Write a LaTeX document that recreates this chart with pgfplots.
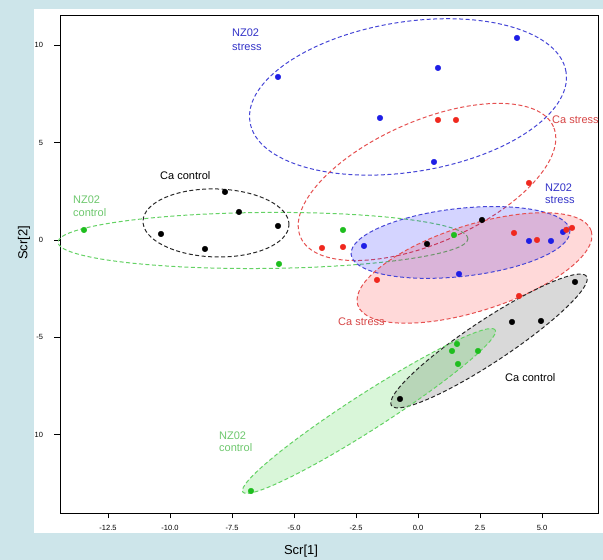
\documentclass[border=0pt]{standalone}
\usepackage{fontspec}
\setmainfont{Liberation Sans}
\usepackage{pgfplots}
\pgfplotsset{compat=1.18}
\definecolor{bgblue}{RGB}{205,229,234}
\definecolor{ptblue}{RGB}{30,30,230}
\definecolor{ptred}{RGB}{240,40,30}
\definecolor{ptgreen}{RGB}{30,190,30}
\definecolor{lnblue}{RGB}{70,70,215}
\definecolor{lnred}{RGB}{230,80,80}
\definecolor{lngreen}{RGB}{100,210,100}
\definecolor{lnblack}{RGB}{40,40,40}
\definecolor{txtblue}{RGB}{50,50,200}
\definecolor{txtred}{RGB}{215,70,70}
\definecolor{txtgreen}{RGB}{110,200,110}
\definecolor{fillgreen}{RGB}{0,200,0}
\tikzset{ell/.style={dash pattern=on 4pt off 2.5pt, line width=1pt}}
\begin{document}
\begin{tikzpicture}
\useasboundingbox (0,0) rectangle (603pt,560pt);
\clip (0,0) rectangle (603pt,560pt);
\fill[bgblue] (0,0) rectangle (603pt,560pt);
\fill[white] (34pt,27pt) rectangle (603pt,551pt);
\begin{axis}[
  at={(60pt,47pt)}, anchor=south west, scale only axis,
  width=538pt, height=498pt,
  xmin=-14.435, xmax=7.258, ymin=-14.03, ymax=11.56,
  xtick={-12.5,-10,-7.5,-5,-2.5,0,2.5,5},
  ytick={-10,-5,0,5,10},
  tick pos=left, tick align=outside, major tick length=5.5pt,
  tick style={black, line width=0.7pt},
  axis line style={line width=0.9pt, black},
  /pgf/number format/assume math mode=true,
  tick label style={font=\fontsize{7.5}{8}\selectfont},
  xticklabel style={yshift=-3pt, /pgf/number format/.cd, fixed, fixed zerofill, precision=1},
  yticklabel style={xshift=-8pt, /pgf/number format/.cd, fixed, precision=0},
  clip=false,
]
% ellipses
\draw[ell, lnblue, rotate around={9:(axis cs:-0.403,7.35)}] (axis cs:-0.403,7.35) ellipse [x radius=160pt, y radius=75pt];
\draw[ell, lnred, rotate around={23.6:(axis cs:0.363,2.98)}] (axis cs:0.363,2.98) ellipse [x radius=138pt, y radius=61pt];
\draw[ell, lngreen, rotate around={0.5:(axis cs:-6.25,-0.026)}] (axis cs:-6.25,-0.026) ellipse [x radius=205pt, y radius=28pt];
\draw[ell, lnblack, rotate around={-1.5:(axis cs:-8.145,0.874)}] (axis cs:-8.145,0.874) ellipse [x radius=73pt, y radius=34pt];
\fill[blue, fill opacity=0.17, rotate around={6.3:(axis cs:1.714,-0.128)}] (axis cs:1.714,-0.128) ellipse [x radius=110pt, y radius=34pt];
\fill[red, fill opacity=0.15, rotate around={17.6:(axis cs:2.278,-1.439)}] (axis cs:2.278,-1.439) ellipse [x radius=122.5pt, y radius=43pt];
\fill[black, fill opacity=0.15, rotate around={33.5:(axis cs:2.863,-5.19)}] (axis cs:2.863,-5.19) ellipse [x radius=117pt, y radius=21pt];
\fill[fillgreen, fill opacity=0.15, rotate around={32.7:(axis cs:-1.976,-8.787)}] (axis cs:-1.976,-8.787) ellipse [x radius=150pt, y radius=18pt];
\draw[ell, lnblue, rotate around={6.3:(axis cs:1.714,-0.128)}] (axis cs:1.714,-0.128) ellipse [x radius=110pt, y radius=34pt];
\draw[ell, lnred, rotate around={17.6:(axis cs:2.278,-1.439)}] (axis cs:2.278,-1.439) ellipse [x radius=122.5pt, y radius=43pt];
\draw[ell, lnblack, rotate around={33.5:(axis cs:2.863,-5.19)}] (axis cs:2.863,-5.19) ellipse [x radius=117pt, y radius=21pt];
\draw[ell, lngreen, rotate around={32.7:(axis cs:-1.976,-8.787)}] (axis cs:-1.976,-8.787) ellipse [x radius=150pt, y radius=18pt];
% points
\addplot[only marks, mark=*, mark size=2.8pt, ptblue, mark options={draw=ptblue, fill=ptblue}] coordinates {
(-5.645,8.376) (-1.532,6.269) (0.806,8.839) (3.992,10.380) (0.645,4.008)
(-2.177,-0.308) (1.653,-1.747) (4.476,-0.051) (5.363,-0.051) (5.847,0.411)};
\addplot[only marks, mark=*, mark size=2.8pt, ptred, mark options={draw=ptred, fill=ptred}] coordinates {
(0.806,6.166) (1.532,6.166) (4.476,2.929) (-3.871,-0.411) (-3.024,-0.360)
(3.871,0.360) (4.798,0) (5.98,0.52) (6.21,0.62) (-1.653,-2.055) (4.073,-2.878)};
\addplot[only marks, mark=*, mark size=2.8pt, black, mark options={draw=black, fill=black}] coordinates {
(-7.782,2.467) (-7.218,1.439) (-5.645,0.719) (-10.363,0.308) (-8.589,-0.462)
(0.363,-0.206) (2.581,1.028) (6.331,-2.158) (3.790,-4.214) (4.960,-4.162) (-0.726,-8.171)};
\addplot[only marks, mark=*, mark size=2.8pt, ptgreen, mark options={draw=ptgreen, fill=ptgreen}] coordinates {
(-13.468,0.514) (-5.605,-1.233) (-3.024,0.514) (1.452,0.257) (1.573,-5.344)
(1.371,-5.704) (2.419,-5.704) (1.613,-6.372) (-6.734,-12.898)};
\end{axis}
\fill[bgblue] (0,0) rectangle (34pt,560pt);
% axis labels
\node[font=\fontsize{13}{15}\selectfont] at (301pt,9pt) {Scr[1]};
\node[rotate=90, font=\fontsize{13}{15}\selectfont] at (24pt,317pt) {Scr[2]};
% group labels
\begin{scope}[every node/.style={font=\fontsize{11}{13}\selectfont, inner sep=0pt}]
\node[txtblue, anchor=base west] at (232pt,523pt) {NZ02};
\node[txtblue, anchor=base west] at (232pt,509pt) {stress};
\node[black, anchor=base west] at (160pt,380pt) {Ca control};
\node[txtgreen, anchor=base west] at (73pt,356pt) {NZ02};
\node[txtgreen, anchor=base west] at (73pt,343pt) {control};
\node[txtred, anchor=base west] at (552pt,436pt) {Ca stress};
\node[txtblue, anchor=base west] at (545pt,368pt) {NZ02};
\node[txtblue, anchor=base west] at (545pt,356pt) {stress};
\node[txtred, anchor=base west] at (338pt,234pt) {Ca stress};
\node[black, anchor=base west] at (505pt,178pt) {Ca control};
\node[txtgreen, anchor=base west] at (219pt,120pt) {NZ02};
\node[txtgreen, anchor=base west] at (219pt,108pt) {control};
\end{scope}
\end{tikzpicture}
\end{document}
